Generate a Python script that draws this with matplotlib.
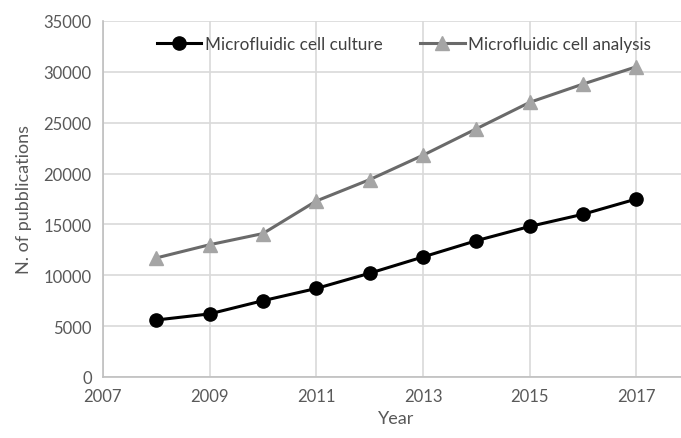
import matplotlib.pyplot as plt

years = [2008, 2009, 2010, 2011, 2012, 2013, 2014, 2015, 2016, 2017]
cell_culture = [5600, 6200, 7500, 8700, 10200, 11800, 13400, 14800, 16000, 17500]
cell_analysis = [11700, 13000, 14100, 17300, 19400, 21800, 24400, 27000, 28800, 30500]
x_ticks = [2007, 2009, 2011, 2013, 2015, 2017]
y_ticks = list(range(0, 35001, 5000))

plt.rcParams['font.family'] = ['Lato', 'DejaVu Sans']

fig = plt.figure(figsize=(6.81, 4.39), dpi=100)
ax = fig.add_axes([0.151, 0.139, 0.862, 0.811])

ax.plot(years, cell_culture, color="black", lw=2.2, marker="o", ms=9.5,
        label="Microfluidic cell culture", zorder=4)
ax.plot(years, cell_analysis, color="#6a6a6a", lw=2.2, marker="^", ms=9.5,
        mfc="#a5a5a5", mec="#a5a5a5", label="Microfluidic cell analysis", zorder=3)

ax.set_xlim(2007, 2018)
ax.set_ylim(0, 35000)
ax.set_xticks(x_ticks)
ax.set_yticks(y_ticks)
ax.grid(True, color="#d9d9d9", lw=1.2)
ax.set_axisbelow(True)
for s in ["top", "right"]:
    ax.spines[s].set_visible(False)
for s in ["left", "bottom"]:
    ax.spines[s].set_color("#bfbfbf")
    ax.spines[s].set_linewidth(1.2)
ax.tick_params(length=0, labelsize=12, colors="#595959", pad=8)
ax.set_xlabel("Year", fontsize=13, color="#595959", labelpad=4)
ax.set_ylabel("N. of pubblications", fontsize=13, color="#595959", labelpad=8)

ax.legend(loc="upper left", bbox_to_anchor=(0.066, 1.0), ncol=2, frameon=False,
          fontsize=12.3, handlelength=2.6, handletextpad=0.2, columnspacing=2.2,
          labelcolor="#404040")

plt.savefig("out.png", dpi=100)
